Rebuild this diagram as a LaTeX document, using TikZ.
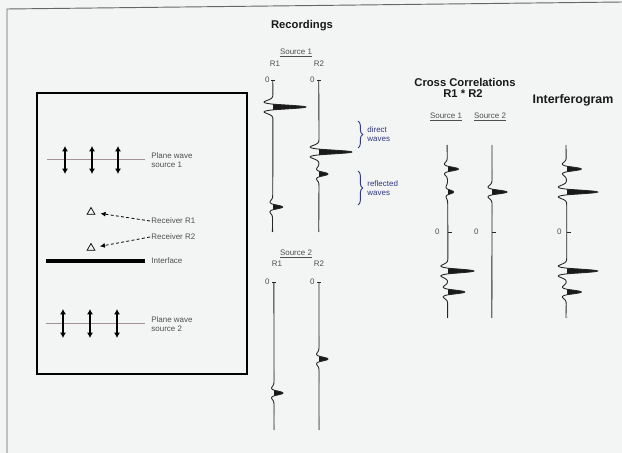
\documentclass[tikz,border=0pt]{standalone}
\usepackage{fontspec}
\setmainfont{Liberation Sans}
\usetikzlibrary{positioning,arrows.meta,shapes.geometric,decorations.pathreplacing}

\definecolor{paper}{RGB}{242,245,243}
\definecolor{inkblue}{RGB}{50,55,135}
\definecolor{srcline}{RGB}{165,145,155}
\definecolor{txt}{RGB}{80,80,80}

% trace: x, top, bottom, events (in \t)
\newcommand{\seistrace}[4]{%
  \begin{scope}
    \clip (#1,#2) rectangle ({#1+45},#3);
    \fill[black!90] plot[variable=\t,domain=#2:#3,samples=380] ({#1+#4},\t) -- (#1,#3) -- cycle;
  \end{scope}
  \draw[trace] plot[variable=\t,domain=#2:#3,samples=380] ({#1+#4},\t);
}

\begin{document}
\begin{tikzpicture}[x=0.03cm,y=-0.03cm,
    title/.style={font=\bfseries\fontsize{9.6}{11}\selectfont,text=black!90},
    lbl/.style={font=\fontsize{6.8}{7.8}\selectfont,text=txt,inner sep=1pt},
    trace/.style={line width=0.75pt,black!85},
    dblarrow/.style={line width=0.9pt,{Latex[length=1.6mm,width=1.8mm]}-{Latex[length=1.6mm,width=1.8mm]}},
    declare function={rk(\u)=(1-2*(\u)*(\u))*exp(-min((\u)*(\u),25));
      wv(\u)=max(rk(\u),0)+0.6*min(rk(\u),0);
      ev(\t,\c,\a)=\a*wv((\t-\c)/4);}]

	\fill[paper] (0,0) rectangle (622,453);
	\useasboundingbox (0,0) rectangle (622,453);
	\draw[black!60,line width=0.8pt] (7,453) -- (7,9) -- (622,2);

	% model
	\draw[line width=1.1pt] (37,93) rectangle (247,374);

	\coordinate (s1l) at (47,159);
	\coordinate (s1r) at (145,159);
	\draw[srcline,line width=0.6pt] (s1l) -- (s1r);
	\foreach \x in {65,92,118}
		\draw[dblarrow] (\x,146) -- (\x,174);
	\node[lbl,anchor=west,align=left] (src1) at (150,160) {Plane wave\\source 1};

	\node[regular polygon,regular polygon sides=3,draw,line width=0.6pt,inner sep=0pt,minimum size=2.7mm] (rcv1) at (91,212) {};
	\node[regular polygon,regular polygon sides=3,draw,line width=0.6pt,inner sep=0pt,minimum size=2.7mm] (rcv2) at (91,248) {};
	\node[lbl,anchor=west] (rl1) at (150,221) {Receiver R1};
	\node[lbl,anchor=west] (rl2) at (150,237) {Receiver R2};
	\draw[line width=0.7pt,dash pattern=on 2.5pt off 2pt,-{Latex[length=1.5mm,width=1.5mm]},shorten >=1.9mm] (rl1.west) -- (rcv1);
	\draw[line width=0.7pt,dash pattern=on 2.5pt off 2pt,-{Latex[length=1.5mm,width=1.5mm]},shorten >=1.9mm] (rl2.west) -- (rcv2);

	\coordinate (ifl) at (46,261);
	\coordinate (ifr) at (145,261);
	\draw[line width=3pt] (ifl) -- (ifr);
	\node[lbl,anchor=west] (intf) at (150,261) {Interface};

	\coordinate (s2l) at (46,323);
	\coordinate (s2r) at (145,323);
	\draw[srcline,line width=0.6pt] (s2l) -- (s2r);
	\foreach \x in {63,90,117}
		\draw[dblarrow] (\x,309) -- (\x,338);
	\node[lbl,anchor=west,align=left] (src2) at (150,324) {Plane wave\\source 2};

	% recordings
	\node[title] (rec) at (302,26) {Recordings};
	\node[lbl] (rs1) at (296,53) {\underline{Source 1}};
	\node[lbl] (rs1a) at (275,64) {R1};
	\node[lbl] (rs1b) at (319,64) {R2};
	\node[lbl,anchor=east] (z1a) at (271,80) {0};
	\node[lbl,anchor=east] (z1b) at (316,80) {0};
	\draw[trace] (271,80) -- (275,80);
	\draw[trace] (317,80) -- (321,80);
	\seistrace{273}{80}{232}{ev(\t,107,33)+ev(\t,207,10)}
	\seistrace{319}{80}{232}{ev(\t,152,33)+ev(\t,174,9)}

	\draw[inkblue,line width=0.8pt,decorate,decoration={brace,amplitude=4pt}] (358,121) -- (358,148);
	\draw[inkblue,line width=0.8pt,decorate,decoration={brace,amplitude=4pt}] (358,171) -- (358,205);
	\node[lbl,anchor=west,align=left,text=inkblue] (dir) at (366,134) {direct\\waves};
	\node[lbl,anchor=west,align=left,text=inkblue] (refl) at (366,188) {reflected\\waves};

	\node[lbl] (rs2) at (296,254) {\underline{Source 2}};
	\node[lbl] (rs2a) at (277,264) {R1};
	\node[lbl] (rs2b) at (319,264) {R2};
	\node[lbl,anchor=east] (z2a) at (271,282) {0};
	\node[lbl,anchor=east] (z2b) at (316,282) {0};
	\draw[trace] (272,282) -- (276,282);
	\draw[trace] (317,282) -- (321,282);
	\seistrace{274}{282}{430}{ev(\t,393,9)}
	\seistrace{319}{282}{430}{ev(\t,359,9)}

	% cross correlations
	\node[title] (cc) at (465,82) {Cross Correlations};
	\node[title] (ccr) at (463,94) {R1 * R2};
	\node[lbl] (cc1) at (446,117) {\underline{Source 1}};
	\node[lbl] (cc2) at (490,117) {\underline{Source 2}};
	\seistrace{448}{145}{318}{ev(\t,169,11)+ev(\t,192,6)+ev(\t,271,26)+ev(\t,292,17)}
	\seistrace{492}{145}{318}{ev(\t,192,15)}
	\node[lbl,anchor=east] (zc1) at (441,232) {0};
	\node[lbl,anchor=east] (zc2) at (480,232) {0};
	\draw[trace] (448,232) -- (452,232);
	\draw[trace] (492,232) -- (496,232);

	% interferogram
	\node[title,font=\bfseries\fontsize{10.6}{12}\selectfont] (intg) at (573,100) {Interferogram};
	\seistrace{567}{145}{318}{ev(\t,169,15)+ev(\t,192,31)+ev(\t,271,31)+ev(\t,292,15)}
	\node[lbl,anchor=east] (zi) at (563,232) {0};
	\draw[trace] (567,232) -- (571,232);

\end{tikzpicture}
\end{document}
